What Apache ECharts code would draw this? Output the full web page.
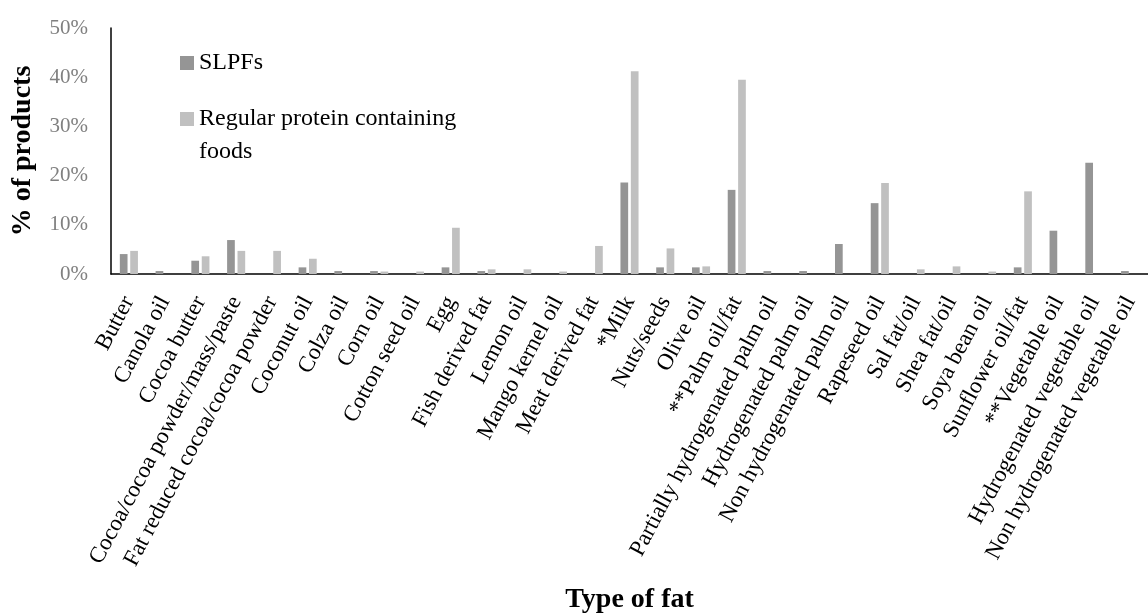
<!DOCTYPE html>
<html>
<head>
<meta charset="utf-8">
<script src="https://cdn.jsdelivr.net/npm/echarts@6/dist/echarts.min.js"></script>
<style>
html,body{margin:0;padding:0;background:#fff;}
#chart{width:1148px;height:615px;}
</style>
</head>
<body>
<div id="chart"></div>
<script>
const categories = [
  'Butter', 'Canola oil', 'Cocoa butter', 'Cocoa/cocoa powder/mass/paste',
  'Fat reduced cocoa/cocoa powder', 'Coconut oil', 'Colza oil', 'Corn oil',
  'Cotton seed oil', 'Egg', 'Fish derived fat', 'Lemon oil', 'Mango kernel oil',
  'Meat derived fat', '*Milk', 'Nuts/seeds', 'Olive oil', '**Palm oil/fat',
  'Partially hydrogenated palm oil', 'Hydrogenated palm oil',
  'Non hydrogenated palm oil', 'Rapeseed oil', 'Sal fat/oil', 'Shea fat/oil',
  'Soya bean oil', 'Sunflower oil/fat', '**Vegetable oil',
  'Hydrogenated vegetable oil', 'Non hydrogenated vegetable oil'
];
const slpfs = [4.05, 0.6, 2.7, 6.9, 0, 1.35, 0.6, 0.6, 0, 1.35, 0.6, 0, 0, 0, 18.6,
  1.35, 1.35, 17.1, 0.6, 0.6, 6.1, 14.4, 0, 0, 0, 1.35, 8.8, 22.6, 0.6];
const regular = [4.7, 0, 3.6, 4.7, 4.7, 3.1, 0, 0.5, 0.5, 9.4, 0.95, 0.95, 0.5, 5.7, 41.2,
  5.2, 1.55, 39.5, 0, 0, 0, 18.5, 0.95, 1.55, 0.5, 16.8, 0, 0, 0];
const yTicks = [0, 10, 20, 30, 40, 50];
const seriesNames = ['SLPFs', 'Regular protein containing\nfoods'];

const FONT = 'Liberation Serif';
const chart = echarts.init(document.getElementById('chart'), null, {renderer: 'canvas'});
chart.setOption({
  backgroundColor: '#ffffff',
  animation: false,
  textStyle: {fontFamily: FONT},
  grid: {left: 111, right: -13, top: 28, bottom: 339, containLabel: false},
  legend: {
    orient: 'vertical',
    left: 180,
    top: 40,
    padding: 0,
    itemWidth: 14,
    itemHeight: 46,
    itemGap: 16,
    textStyle: {fontFamily: FONT, fontSize: 24, color: '#000', lineHeight: 33},
    data: [
      {name: seriesNames[0], icon: 'path://M0,0L0.01,0M0,16H14V30H0ZM0,46L0.01,46'},
      {name: seriesNames[1], icon: 'path://M0,0H14V14H0ZM0,46L0.01,46'}
    ]
  },
  xAxis: {
    type: 'category',
    data: categories,
    name: 'Type of fat',
    nameLocation: 'middle',
    nameGap: 312,
    nameTextStyle: {fontFamily: FONT, fontSize: 28, fontWeight: 'bold', color: '#000'},
    axisLine: {show: true, lineStyle: {color: '#000', width: 1.5}},
    axisTick: {show: false},
    axisLabel: {
      interval: 0,
      rotate: 62,
      margin: 24,
      fontFamily: FONT,
      fontSize: 23,
      color: '#000'
    },
    splitLine: {show: false}
  },
  yAxis: {
    type: 'value',
    min: yTicks[0],
    max: yTicks[yTicks.length - 1],
    interval: 10,
    name: '% of products',
    nameLocation: 'middle',
    nameRotate: 90,
    nameGap: 74,
    nameTextStyle: {fontFamily: FONT, fontSize: 28, fontWeight: 'bold', color: '#000'},
    axisLine: {show: true, lineStyle: {color: '#000', width: 1.5}},
    axisTick: {show: false},
    splitLine: {show: false},
    axisLabel: {
      formatter: '{value}%',
      margin: 23,
      fontFamily: FONT,
      fontSize: 21,
      color: '#808080'
    }
  },
  series: [
    {
      name: seriesNames[0],
      type: 'bar',
      data: slpfs,
      barWidth: 7.7,
      barGap: '35%',
      itemStyle: {color: '#959595'}
    },
    {
      name: seriesNames[1],
      type: 'bar',
      data: regular,
      barWidth: 7.7,
      barGap: '35%',
      itemStyle: {color: '#c0c0c0'}
    }
  ]
});
</script>
</body>
</html>
